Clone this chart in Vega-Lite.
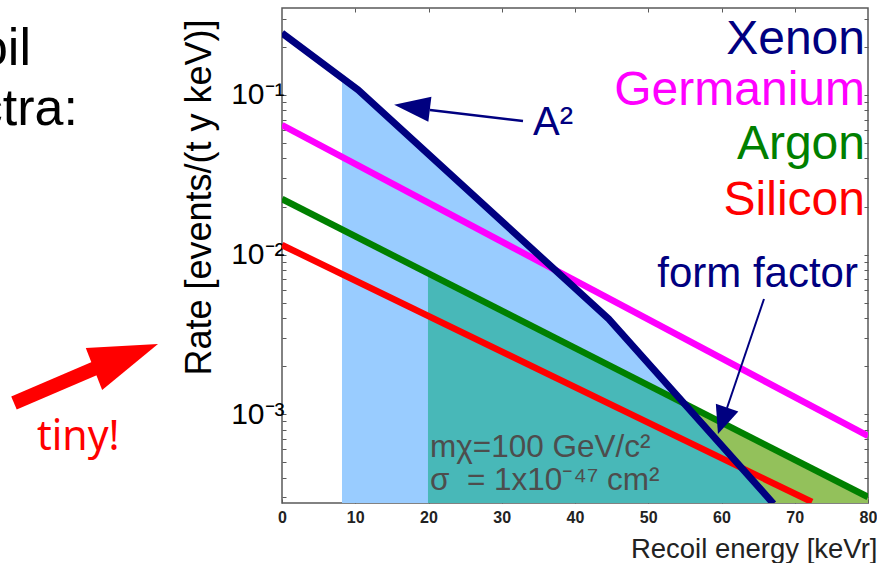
{
  "$schema": "https://vega.github.io/schema/vega-lite/v6.json",
  "width": 586,
  "height": 495,
  "autosize": {"type": "none"},
  "padding": {"left": 282, "top": 8, "right": 9, "bottom": 60},
  "background": "white",
  "config": {
    "view": {"stroke": "#5a5a5a", "strokeWidth": 1.5},
    "font": "Liberation Sans"
  },
  "datasets": {
    "curves": [
      {"series": "Xenon", "E": 0, "rate": 0.2446},
      {"series": "Xenon", "E": 10.4, "rate": 0.1075},
      {"series": "Xenon", "E": 44.6, "rate": 0.003943},
      {"series": "Xenon", "E": 67.1, "rate": 0.000274},
      {"series": "Germanium", "E": 0, "rate": 0.0648},
      {"series": "Germanium", "E": 80, "rate": 0.000729},
      {"series": "Argon", "E": 0, "rate": 0.02229},
      {"series": "Argon", "E": 80, "rate": 0.000302},
      {"series": "Silicon", "E": 0, "rate": 0.01147},
      {"series": "Silicon", "E": 72.35, "rate": 0.000281}
    ],
    "fills": [
      {"fill": "XenonFill", "E": 8.19, "rate": 0.128},
      {"fill": "XenonFill", "E": 10.4, "rate": 0.1075},
      {"fill": "XenonFill", "E": 44.6, "rate": 0.003943},
      {"fill": "XenonFill", "E": 67.1, "rate": 0.000274},
      {"fill": "ArgonFill", "E": 19.93, "rate": 0.0076},
      {"fill": "ArgonFill", "E": 80, "rate": 0.000302},
      {"fill": "Overlap", "E": 19.93, "rate": 0.0076},
      {"fill": "Overlap", "E": 54.9, "rate": 0.001164},
      {"fill": "Overlap", "E": 67.1, "rate": 0.000274}
    ],
    "legendLabels": [
      {"series": "Xenon", "text": "Xenon", "E": 79.59, "rate": 0.1807},
      {"series": "Germanium", "text": "Germanium", "E": 79.59, "rate": 0.0866},
      {"series": "Argon", "text": "Argon", "E": 79.59, "rate": 0.0397},
      {"series": "Silicon", "text": "Silicon", "E": 79.59, "rate": 0.01769}
    ],
    "notes": [
      {"group": "ff", "text": "form factor", "E": 78.63, "rate": 0.00626},
      {"group": "a2", "text": "A²", "E": 34.27, "rate": 0.0561},
      {"group": "params", "text": "mχ=100 GeV/c²", "E": 20.2, "rate": 0.000538},
      {"group": "params", "text": "σ\u00a0\u00a0= 1x10⁻⁴⁷ cm²", "E": 20.2, "rate": 0.000334},
      {"group": "slide", "text": "Recoil", "E": -34.27, "rate": 0.1542},
      {"group": "slide", "text": "spectra:", "E": -27.85, "rate": 0.0648},
      {"group": "tiny", "text": "tiny!", "E": -33.45, "rate": 0.000595}
    ],
    "arrows": [
      {"name": "a2", "E": 32.9, "rate": 0.0687, "E2": 20.2, "rate2": 0.0805},
      {"name": "ff", "E": 65.8, "rate": 0.00526, "E2": 60.75, "rate2": 0.001092},
      {"name": "tiny", "E": -36.59, "rate": 0.001173, "E2": -25.12, "rate2": 0.001971}
    ],
    "heads": [
      {"name": "a2", "E": 17.75, "rate": 0.0841},
      {"name": "ff", "E": 60.14, "rate": 0.000907},
      {"name": "tiny", "E": -21.3, "rate": 0.002294}
    ]
  },
  "layer": [
    {
      "layer": [
        {
          "data": {"name": "fills"},
          "transform": [{"filter": "datum.fill === 'ArgonFill'"}],
          "mark": {"type": "area", "clip": true, "color": "#93C15B"},
          "encoding": {
            "x": {
              "field": "E", "type": "quantitative",
              "scale": {"domain": [0, 80], "nice": false, "zero": false},
              "axis": {
                "values": [0, 10, 20, 30, 40, 50, 60, 70, 80],
                "domain": false, "grid": false,
                "tickSize": -4, "tickColor": "#5a5a5a",
                "labelFont": "Liberation Sans", "labelFontWeight": "bold", "labelFontSize": 16,
                "labelColor": "#222", "labelPadding": 10, "labelFlush": false,
                "title": "Recoil energy [keVr]",
                "titleFont": "Liberation Sans", "titleFontSize": 27.5, "titleFontWeight": "normal",
                "titleColor": "#222", "titleAnchor": "end", "titleAlign": "right",
                "titleX": 595, "titleY": 54, "titleBaseline": "alphabetic"
              }
            },
            "y": {
              "field": "rate", "type": "quantitative",
              "scale": {"type": "log", "domain": [0.000277, 0.351], "nice": false},
              "axis": {
                "values": [0.0003, 0.0004, 0.0005, 0.0006, 0.0007, 0.0008, 0.0009, 0.001, 0.002, 0.003, 0.004, 0.005, 0.006, 0.007, 0.008, 0.009, 0.01, 0.02, 0.03, 0.04, 0.05, 0.06, 0.07, 0.08, 0.09, 0.1, 0.2, 0.3],
                "labelExpr": "datum.value == 0.1 ? '10⁻¹' : datum.value == 0.01 ? '10⁻²' : datum.value == 0.001 ? '10⁻³' : ''",
                "domain": false, "grid": false,
                "tickSize": -4, "tickColor": "#5a5a5a",
                "labelFont": "Liberation Sans", "labelFontSize": 30, "labelColor": "#000",
                "labelPadding": 2, "labelFlush": false, "labelOverlap": false,
                "title": "Rate [events/(t y keV)]",
                "titleFont": "Liberation Sans", "titleFontSize": 36, "titleFontWeight": "normal",
                "titleColor": "#000", "titleX": -72, "titleY": 189,
                "titleAlign": "center", "titleBaseline": "alphabetic", "titleAngle": -90
              }
            },
            "y2": {"datum": 0.000277}
          }
        },
        {
          "data": {"name": "fills"},
          "transform": [{"filter": "datum.fill === 'XenonFill'"}],
          "mark": {"type": "area", "clip": true, "color": "#99CCFF"},
          "encoding": {
            "x": {"field": "E", "type": "quantitative"},
            "y": {"field": "rate", "type": "quantitative"},
            "y2": {"datum": 0.000277}
          }
        },
        {
          "data": {"name": "fills"},
          "transform": [{"filter": "datum.fill === 'Overlap'"}],
          "mark": {"type": "area", "clip": true, "color": "#48B8B8"},
          "encoding": {
            "x": {"field": "E", "type": "quantitative"},
            "y": {"field": "rate", "type": "quantitative"},
            "y2": {"datum": 0.000277}
          }
        },
        {
          "data": {"name": "curves"},
          "transform": [{"filter": "datum.series !== 'Xenon'"}],
          "mark": {"type": "line", "clip": true, "strokeWidth": 6.5, "strokeCap": "butt"},
          "encoding": {
            "x": {"field": "E", "type": "quantitative"},
            "y": {"field": "rate", "type": "quantitative"},
            "color": {
              "field": "series", "type": "nominal",
              "scale": {"domain": ["Xenon", "Germanium", "Argon", "Silicon"], "range": ["#000080", "#FF00FF", "#008000", "#FF0000"]},
              "legend": null
            }
          }
        },
        {
          "data": {"name": "curves"},
          "transform": [{"filter": "datum.series === 'Xenon'"}],
          "mark": {"type": "line", "clip": true, "strokeWidth": 7, "strokeCap": "butt", "strokeJoin": "miter"},
          "encoding": {
            "x": {"field": "E", "type": "quantitative"},
            "y": {"field": "rate", "type": "quantitative"},
            "color": {"field": "series", "type": "nominal", "legend": null}
          }
        },
        {
          "data": {"name": "arrows"},
          "transform": [{"filter": "datum.name === 'a2'"}],
          "mark": {"type": "rule", "color": "#000080", "strokeWidth": 2.5},
          "encoding": {
            "x": {"field": "E", "type": "quantitative"},
            "y": {"field": "rate", "type": "quantitative"},
            "x2": {"field": "E2"},
            "y2": {"field": "rate2"}
          }
        },
        {
          "data": {"name": "arrows"},
          "transform": [{"filter": "datum.name === 'ff'"}],
          "mark": {"type": "rule", "color": "#000080", "strokeWidth": 2},
          "encoding": {
            "x": {"field": "E", "type": "quantitative"},
            "y": {"field": "rate", "type": "quantitative"},
            "x2": {"field": "E2"},
            "y2": {"field": "rate2"}
          }
        },
        {
          "data": {"name": "arrows"},
          "transform": [{"filter": "datum.name === 'tiny'"}],
          "mark": {"type": "rule", "color": "#FF0000", "strokeWidth": 14, "strokeCap": "butt"},
          "encoding": {
            "x": {"field": "E", "type": "quantitative"},
            "y": {"field": "rate", "type": "quantitative"},
            "x2": {"field": "E2"},
            "y2": {"field": "rate2"}
          }
        },
        {
          "data": {"name": "heads"},
          "transform": [{"filter": "datum.name === 'a2'"}],
          "mark": {"type": "point", "shape": "M-1,0L1,-0.7L1,0.7Z", "filled": true, "color": "#000080", "opacity": 1, "size": 1296, "angle": 7},
          "encoding": {
            "x": {"field": "E", "type": "quantitative"},
            "y": {"field": "rate", "type": "quantitative"}
          }
        },
        {
          "data": {"name": "heads"},
          "transform": [{"filter": "datum.name === 'ff'"}],
          "mark": {"type": "point", "shape": "M-1,0L1,-0.85L1,0.85Z", "filled": true, "color": "#000080", "opacity": 1, "size": 784, "angle": -71},
          "encoding": {
            "x": {"field": "E", "type": "quantitative"},
            "y": {"field": "rate", "type": "quantitative"}
          }
        },
        {
          "data": {"name": "heads"},
          "transform": [{"filter": "datum.name === 'tiny'"}],
          "mark": {"type": "point", "shape": "M1,0L-1,-0.656L-1,0.656Z", "filled": true, "color": "#FF0000", "opacity": 1, "size": 4720, "angle": -21.3},
          "encoding": {
            "x": {"field": "E", "type": "quantitative"},
            "y": {"field": "rate", "type": "quantitative"}
          }
        },
        {
          "data": {"name": "legendLabels"},
          "mark": {"type": "text", "align": "right", "baseline": "alphabetic", "fontSize": 48, "font": "Liberation Sans"},
          "encoding": {
            "x": {"field": "E", "type": "quantitative"},
            "y": {"field": "rate", "type": "quantitative"},
            "text": {"field": "text"},
            "color": {"field": "series", "type": "nominal", "legend": null}
          }
        },
        {
          "data": {"name": "notes"},
          "transform": [{"filter": "datum.group === 'ff'"}],
          "mark": {"type": "text", "align": "right", "baseline": "alphabetic", "fontSize": 42, "font": "Liberation Sans", "color": "#000080"},
          "encoding": {
            "x": {"field": "E", "type": "quantitative"},
            "y": {"field": "rate", "type": "quantitative"},
            "text": {"field": "text"}
          }
        },
        {
          "data": {"name": "notes"},
          "transform": [{"filter": "datum.group === 'a2'"}],
          "mark": {"type": "text", "align": "left", "baseline": "alphabetic", "fontSize": 40, "font": "Liberation Sans", "color": "#000080"},
          "encoding": {
            "x": {"field": "E", "type": "quantitative"},
            "y": {"field": "rate", "type": "quantitative"},
            "text": {"field": "text"}
          }
        },
        {
          "data": {"name": "notes"},
          "transform": [{"filter": "datum.group === 'params'"}],
          "mark": {"type": "text", "align": "left", "baseline": "alphabetic", "fontSize": 31.5, "font": "Liberation Sans", "color": "#4D4D4D"},
          "encoding": {
            "x": {"field": "E", "type": "quantitative"},
            "y": {"field": "rate", "type": "quantitative"},
            "text": {"field": "text"}
          }
        },
        {
          "data": {"name": "notes"},
          "transform": [{"filter": "datum.group === 'slide'"}],
          "mark": {"type": "text", "align": "right", "baseline": "alphabetic", "fontSize": 52, "font": "Liberation Sans", "color": "#000000"},
          "encoding": {
            "x": {"field": "E", "type": "quantitative"},
            "y": {"field": "rate", "type": "quantitative"},
            "text": {"field": "text"}
          }
        },
        {
          "data": {"name": "notes"},
          "transform": [{"filter": "datum.group === 'tiny'"}],
          "mark": {"type": "text", "align": "left", "baseline": "alphabetic", "fontSize": 41, "font": "Noto Sans", "color": "#FF0000"},
          "encoding": {
            "x": {"field": "E", "type": "quantitative"},
            "y": {"field": "rate", "type": "quantitative"},
            "text": {"field": "text"}
          }
        }
      ]
    },
    {
      "data": {"name": "curves"},
      "mark": {"type": "point", "opacity": 0},
      "encoding": {
        "x": {
          "field": "E", "type": "quantitative",
          "scale": {"domain": [0, 80], "nice": false, "zero": false},
          "axis": {"orient": "top", "values": [10, 20, 30, 40, 50, 60, 70], "domain": false, "grid": false, "labels": false, "title": null, "tickSize": -4, "tickColor": "#5a5a5a"}
        },
        "y": {
          "field": "rate", "type": "quantitative",
          "scale": {"type": "log", "domain": [0.000277, 0.351], "nice": false},
          "axis": {
            "orient": "right",
            "values": [0.0003, 0.0004, 0.0005, 0.0006, 0.0007, 0.0008, 0.0009, 0.001, 0.002, 0.003, 0.004, 0.005, 0.006, 0.007, 0.008, 0.009, 0.01, 0.02, 0.03, 0.04, 0.05, 0.06, 0.07, 0.08, 0.09, 0.1, 0.2, 0.3],
            "domain": false, "grid": false, "labels": false, "title": null, "tickSize": -4, "tickColor": "#5a5a5a"
          }
        }
      }
    }
  ],
  "resolve": {"axis": {"x": "independent", "y": "independent"}}
}
